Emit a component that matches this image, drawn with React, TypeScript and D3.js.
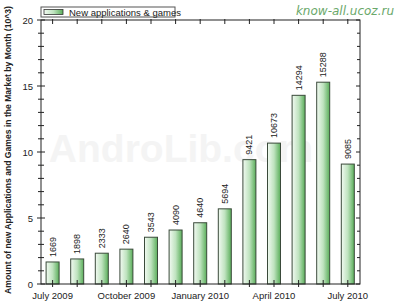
import React from "react";
import * as d3 from "d3";

const months = ["2009-07","2009-08","2009-09","2009-10","2009-11","2009-12","2010-01","2010-02","2010-03","2010-04","2010-05","2010-06","2010-07"];
const values = [1669, 1898, 2333, 2640, 3543, 4090, 4640, 5694, 9421, 10673, 14294, 15288, 9085];
const tickLabels = ["July 2009", "October 2009", "January 2010", "April 2010", "July 2010"];
const tickIndexes = [0, 3, 6, 9, 12];
const yMajor = [0, 5, 10, 15, 20];
const seriesName = "New applications & games";

export default function App() {
  const W = 400, H = 308;
  const left = 41, right = 360, top = 20, bottom = 284;
  const x = d3.scaleLinear().domain([0, months.length - 1]).range([52.6, 347.8]);
  const y = d3.scaleLinear().domain([0, 20]).range([bottom, top]);
  const bw = 13;
  const minor = d3.range(0, 21, 1);
  const font = "Liberation Sans, Arial, sans-serif";
  return (
    <svg width={W} height={H} style={{ position: "absolute", left: 0, top: 0, background: "#fff" }} fontFamily={font}>
      <defs>
        <linearGradient id="bg" x1="0" x2="1" y1="0" y2="0">
          <stop offset="0" stopColor="#f2faf2" />
          <stop offset="0.5" stopColor="#bfe3bf" />
          <stop offset="1" stopColor="#5aae5a" />
        </linearGradient>
      </defs>
      <rect width={W} height={H} fill="#fff" />
      <text x={181} y={162} textAnchor="middle" fontSize={39} fontWeight="bold" fill="#f4f4f4" fontFamily={font}>AndroLib.com</text>
      {/* bars */}
      {values.map((v, i) => (
        <g key={months[i]}>
          <rect x={x(i) - bw / 2} y={y(v / 1000)} width={bw} height={bottom - y(v / 1000)} fill="url(#bg)" stroke="#3a4a3a" strokeWidth={1} />
          <text transform={`translate(${x(i) + 3},${y(v / 1000) - 5}) rotate(-90)`} fontSize={9} fill="#222">{v}</text>
        </g>
      ))}
      {/* frame */}
      <rect x={left} y={top} width={right - left} height={bottom - top} fill="none" stroke="#222" strokeWidth={1} />
      {/* y ticks */}
      {minor.map((t) => {
        const maj = t % 5 === 0;
        return (
          <g key={t}>
            <line x1={left - (maj ? 4 : 3)} x2={left + (maj ? 4 : 3)} y1={y(t)} y2={y(t)} stroke="#222" />
            <line x1={right - (maj ? 4 : 3)} x2={right} y1={y(t)} y2={y(t)} stroke="#222" />
          </g>
        );
      })}
      {yMajor.map((t) => (
        <text key={t} x={left - 8} y={y(t) + 3.5} textAnchor="end" fontSize={9.5} fill="#222">{t}</text>
      ))}
      {/* x ticks */}
      {months.map((m, i) => (
        <g key={m}>
          <line x1={x(i)} x2={x(i)} y1={bottom - 4} y2={bottom + 3} stroke="#222" />
          <line x1={x(i)} x2={x(i)} y1={top - 1} y2={top + 4} stroke="#222" />
        </g>
      ))}
      {tickIndexes.map((ti, k) => (
        <text key={ti} x={x(ti)} y={299} textAnchor="middle" fontSize={9.5} fill="#222">{tickLabels[k]}</text>
      ))}
      {/* y label */}
      <text transform={`translate(11,150) rotate(-90)`} textAnchor="middle" fontSize={8.6} fontWeight="bold" fill="#222">Amount of new Applications and Games in the Market by Month (10^3)</text>
      {/* legend */}
      <rect x={41} y={7} width={134} height={10} fill="#fff" stroke="#555" />
      <rect x={44} y={9.5} width={19} height={5} fill="url(#bg)" stroke="#333" strokeWidth={0.8} />
      <text x={69} y={15.5} fontSize={9.5} fill="#222">{seriesName}</text>
      {/* watermark */}
      <text x={394} y={15} textAnchor="end" fontSize={12} fontStyle="italic" fill="#6aa86a" fontFamily="DejaVu Sans, sans-serif">know-all.ucoz.ru</text>
    </svg>
  );
}
